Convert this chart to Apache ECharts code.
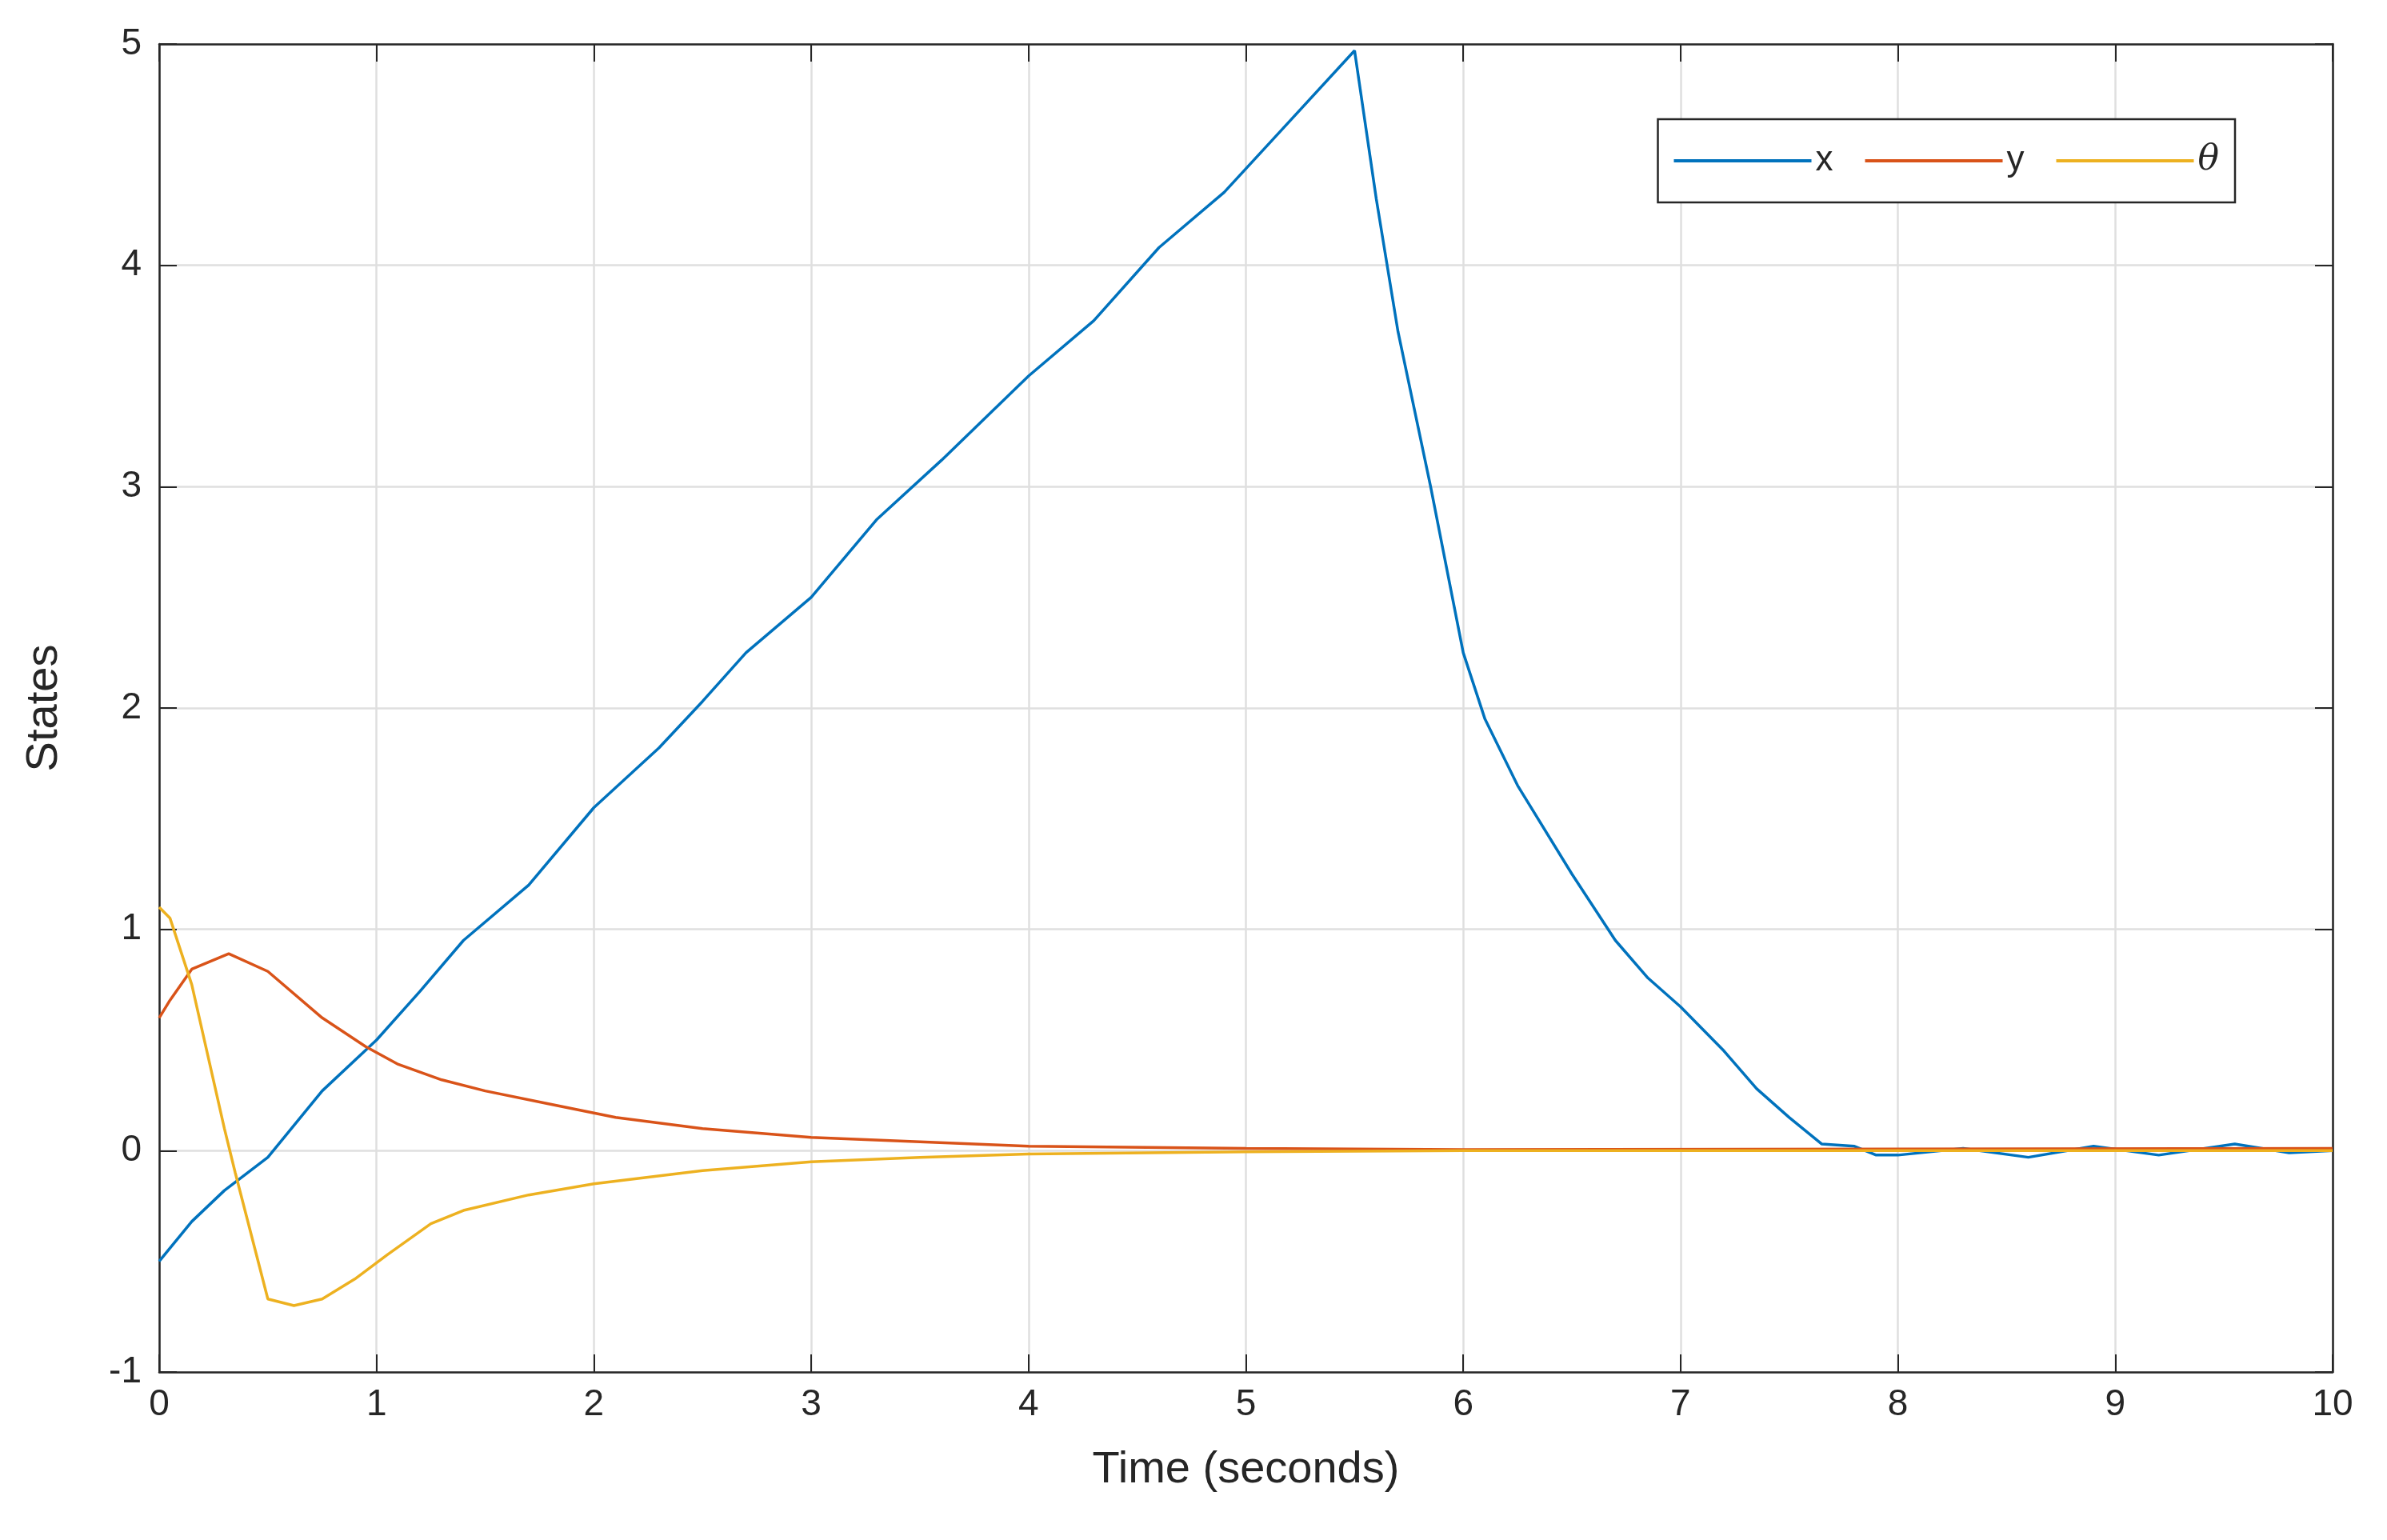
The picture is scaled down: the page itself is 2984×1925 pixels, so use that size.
<!DOCTYPE html><html><head><meta charset="utf-8"><script src="https://cdn.jsdelivr.net/npm/echarts@6/dist/echarts.min.js"></script>
<style>html,body{margin:0;background:#fff}#c{width:2984px;height:1925px}</style></head><body><div id="c"></div><script>
const xData=[[0,-0.5],[0.15,-0.32],[0.3,-0.18],[0.5,-0.03],[0.75,0.27],[1.0,0.5],[1.2,0.72],[1.4,0.95],[1.7,1.2],[2.0,1.55],[2.3,1.82],[2.5,2.03],[2.7,2.25],[3.0,2.5],[3.3,2.85],[3.6,3.12],[4.0,3.5],[4.3,3.75],[4.6,4.08],[4.9,4.33],[5.2,4.65],[5.5,4.97],[5.6,4.3],[5.7,3.7],[5.85,3.0],[6.0,2.25],[6.1,1.95],[6.25,1.65],[6.5,1.25],[6.7,0.95],[6.85,0.78],[7.0,0.65],[7.2,0.45],[7.35,0.28],[7.5,0.15],[7.65,0.03],[7.8,0.02],[7.9,-0.02],[8.0,-0.02],[8.3,0.01],[8.6,-0.03],[8.9,0.02],[9.2,-0.02],[9.55,0.03],[9.8,-0.01],[10,0]];
const yData=[[0,0.6],[0.05,0.68],[0.15,0.82],[0.32,0.89],[0.5,0.81],[0.75,0.6],[0.95,0.47],[1.1,0.39],[1.3,0.32],[1.5,0.27],[1.8,0.21],[2.1,0.15],[2.5,0.1],[3.0,0.06],[3.5,0.04],[4,0.02],[5,0.01],[6,0.005],[10,0.01]];
const thData=[[0,1.1],[0.05,1.05],[0.15,0.75],[0.3,0.1],[0.35,-0.1],[0.5,-0.67],[0.62,-0.7],[0.75,-0.67],[0.9,-0.58],[1.05,-0.47],[1.25,-0.33],[1.4,-0.27],[1.7,-0.2],[2.0,-0.15],[2.5,-0.09],[3,-0.05],[3.5,-0.03],[4,-0.015],[5,-0.005],[6,0],[10,0]];
const names=['x','y','θ'];
const colors=['#0072BD','#D95319','#EDB120'];
const F='Liberation Sans, Arial, sans-serif';
const tick={show:true,inside:true,length:22,lineStyle:{color:'#262626',width:2}};
const line={show:true,onZero:false,lineStyle:{color:'#262626',width:2.5}};
const grid={show:true,lineStyle:{color:'#dfdfdf',width:2.5}};
const c=echarts.init(document.getElementById('c'));
c.setOption({animation:false,
grid:{left:199,right:68,top:55,bottom:210,containLabel:false},
legend:{right:190,top:149,width:750,height:100,orient:'horizontal',itemWidth:172,itemHeight:4,itemGap:40,padding:[30,20,30,20],
 borderColor:'#262626',borderWidth:2.5,backgroundColor:'#fff',textStyle:{fontFamily:F,fontSize:44,color:'#262626'},
 data:[{name:'x'},{name:'y'},{name:'θ',textStyle:{fontStyle:'italic',fontFamily:'DejaVu Serif'}}],icon:'rect'},
xAxis:[{type:'value',min:0,max:10,interval:1,name:'Time (seconds)',nameLocation:'middle',nameGap:95,
 nameTextStyle:{fontFamily:F,fontSize:56,color:'#262626'},axisLabel:{fontFamily:F,fontSize:46,color:'#262626',margin:18},
 axisLine:line,axisTick:tick,splitLine:grid},
 {type:'value',min:0,max:10,interval:1,position:'top',axisLabel:{show:false},axisLine:line,axisTick:tick,splitLine:{show:false}}],
yAxis:[{type:'value',min:-1,max:5,interval:1,name:'States',nameLocation:'middle',nameGap:115,
 nameTextStyle:{fontFamily:F,fontSize:56,color:'#262626'},axisLabel:{fontFamily:F,fontSize:46,color:'#262626',margin:22},
 axisLine:line,axisTick:tick,splitLine:grid},
 {type:'value',min:-1,max:5,interval:1,position:'right',axisLabel:{show:false},axisLine:line,axisTick:tick,splitLine:{show:false}}],
series:[xData,yData,thData].map((d,i)=>({name:names[i],type:'line',data:d,showSymbol:false,color:colors[i],lineStyle:{width:3.5,color:colors[i]}}))
});
</script></body></html>
